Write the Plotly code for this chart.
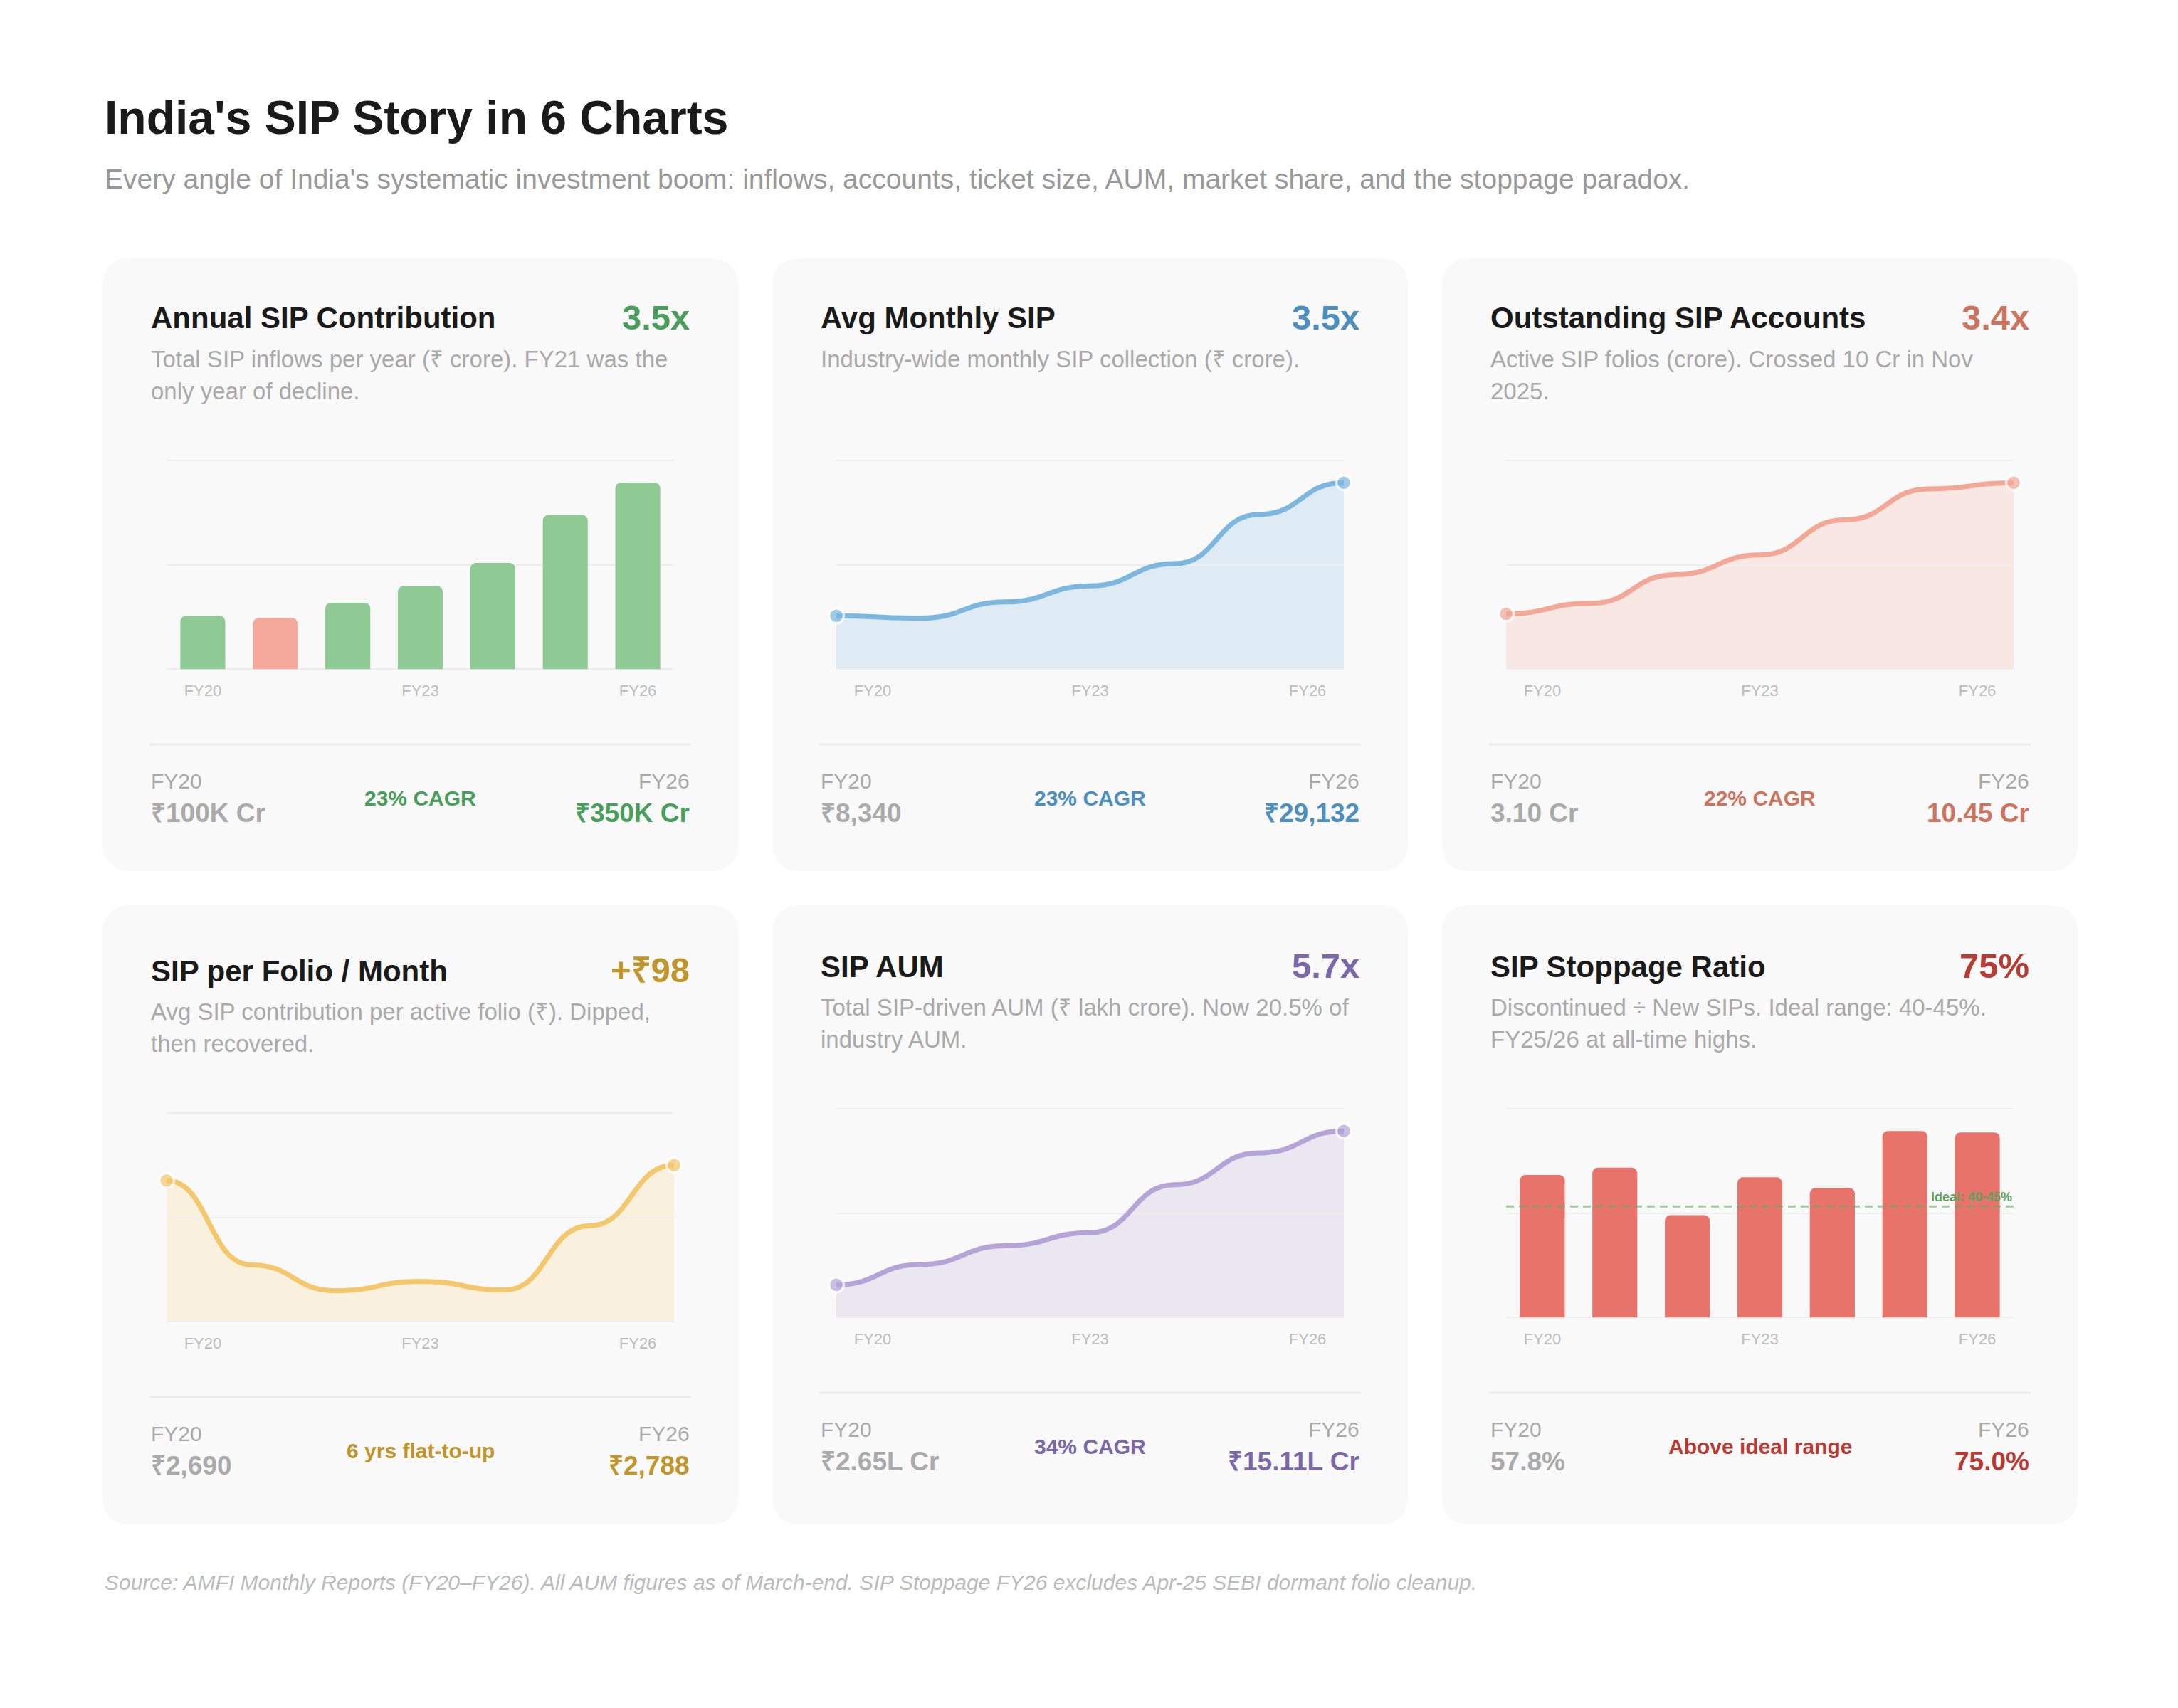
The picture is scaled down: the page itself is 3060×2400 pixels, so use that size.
import plotly.graph_objects as go

# ---- data ----
YEARS = ["FY20", "FY21", "FY22", "FY23", "FY24", "FY25", "FY26"]
TICK_YEARS = ["FY20", "FY23", "FY26"]

annual_sip = [100084, 96080, 124566, 155972, 199219, 289352, 350000]   # ₹ crore / year
monthly_sip = [8340, 7970, 10500, 13000, 16470, 24180, 29132]          # ₹ crore / month
sip_accounts = [3.10, 3.69, 5.29, 6.40, 8.36, 10.10, 10.45]            # crore folios
sip_per_folio = [2690, 2150, 1985, 2045, 1990, 2400, 2788]             # ₹ per folio
sip_aum = [2.65, 4.30, 5.81, 6.87, 10.75, 13.33, 15.11]                # ₹ lakh crore
stoppage = [57.8, 60.7, 41.5, 56.8, 52.5, 75.6, 75.0]                  # %
IDEAL = 45

cards = [
    dict(title="Annual SIP Contribution", head="3.5x", color="#4a9e5c",
         desc=["Total SIP inflows per year (₹ crore). FY21 was the", "only year of decline."],
         left="₹100K Cr", mid="23% CAGR", right="₹350K Cr"),
    dict(title="Avg Monthly SIP", head="3.5x", color="#4a8fc0",
         desc=["Industry-wide monthly SIP collection (₹ crore)."],
         left="₹8,340", mid="23% CAGR", right="₹29,132"),
    dict(title="Outstanding SIP Accounts", head="3.4x", color="#cd735e",
         desc=["Active SIP folios (crore). Crossed 10 Cr in Nov", "2025."],
         left="3.10 Cr", mid="22% CAGR", right="10.45 Cr"),
    dict(title="SIP per Folio / Month", head="+₹98", color="#c0952b",
         desc=["Avg SIP contribution per active folio (₹). Dipped,", "then recovered."],
         left="₹2,690", mid="6 yrs flat-to-up", right="₹2,788"),
    dict(title="SIP AUM", head="5.7x", color="#7a68a8",
         desc=["Total SIP-driven AUM (₹ lakh crore). Now 20.5% of", "industry AUM."],
         left="₹2.65L Cr", mid="34% CAGR", right="₹15.11L Cr"),
    dict(title="SIP Stoppage Ratio", head="75%", color="#b93a32",
         desc=["Discontinued ÷ New SIPs. Ideal range: 40-45%.", "FY25/26 at all-time highs."],
         left="57.8%", mid="Above ideal range", right="75.0%"),
]

FONT = "Liberation Sans, Arial, Helvetica, sans-serif"

# page geometry in screen pixels (body has an 8px margin)
OX, OY = 8, 8
W, H = 3044, 2384


def px(x):
    return (x - OX) / W


def py(y):
    return 1 - (y - OY) / H


CARD_X = [144, 1085, 2026]
CARD_W = 893
CARD_Y = [363, 1272]
CARD_H = [861, 870]
PAD = 66

fig = go.Figure()
annotations = []
shapes = []


def txt(x, y, s, size, color, bold=False, anchor="left", italic=False):
    annotations.append(dict(
        x=px(x), y=py(y), xref="paper", yref="paper", text=s, showarrow=False,
        xanchor=anchor, yanchor="middle",
        font=dict(family=FONT, size=size, color=color,
                  weight="bold" if bold else "normal",
                  style="italic" if italic else "normal")))


def rrect(x0, y0, x1, y1, r):
    return (f"M{px(x0 + r)},{py(y0)} L{px(x1 - r)},{py(y0)} "
            f"Q{px(x1)},{py(y0)} {px(x1)},{py(y0 + r)} L{px(x1)},{py(y1 - r)} "
            f"Q{px(x1)},{py(y1)} {px(x1 - r)},{py(y1)} L{px(x0 + r)},{py(y1)} "
            f"Q{px(x0)},{py(y1)} {px(x0)},{py(y1 - r)} L{px(x0)},{py(y0 + r)} "
            f"Q{px(x0)},{py(y0)} {px(x0 + r)},{py(y0)} Z")


# header / footer
txt(145, 165, "India's SIP Story in 6 Charts", 66, "#1a1a1a", bold=True)
txt(145, 252, "Every angle of India's systematic investment boom: inflows, accounts, "
              "ticket size, AUM, market share, and the stoppage paradox.", 39, "#999999")
txt(145, 2223, "Source: AMFI Monthly Reports (FY20–FY26). All AUM figures as of March-end. "
               "SIP Stoppage FY26 excludes Apr-25 SEBI dormant folio cleanup.",
    30, "#bbbbbb", italic=True)

n = len(YEARS)
xi = list(range(n))
tick_idx = [YEARS.index(t) for t in TICK_YEARS]

for k, c in enumerate(cards):
    row, col = divmod(k, 3)
    x0 = CARD_X[col]
    x1 = x0 + CARD_W
    y0 = CARD_Y[row]
    y1 = y0 + CARD_H[row]
    dy = 2 * row + (6 if k == 3 else 0)
    shapes.append(dict(type="path", path=rrect(x0, y0, x1, y1, 40), xref="paper", yref="paper",
                       fillcolor="#f9f9f9", line=dict(width=0), layer="below"))

    txt(x0 + PAD, y0 + 84 + dy, c["title"], 42, "#1a1a1a", bold=True)
    txt(x1 - PAD, y0 + 83 + dy, c["head"], 49, c["color"], bold=True, anchor="right")
    for j, line in enumerate(c["desc"]):
        txt(x0 + PAD, y0 + 141 + dy + 45 * j, line, 33, "#aaaaaa")

    shapes.append(dict(type="line", xref="paper", yref="paper",
                       x0=px(x0 + PAD), x1=px(x1 - PAD), y0=py(y0 + 683 + dy), y1=py(y0 + 683 + dy),
                       line=dict(color="#ececec", width=3)))
    txt(x0 + PAD, y0 + 734 + dy, YEARS[0], 30, "#aaaaaa")
    txt(x0 + PAD, y0 + 779 + dy, c["left"], 37, "#aaaaaa", bold=True)
    txt(x1 - PAD, y0 + 734 + dy, YEARS[-1], 30, "#aaaaaa", anchor="right")
    txt(x1 - PAD, y0 + 779 + dy, c["right"], 37, c["color"], bold=True, anchor="right")
    txt((x0 + x1) / 2, y0 + 758 + dy, c["mid"], 30, c["color"], bold=True, anchor="center")

    # chart axes
    s = "" if k == 0 else str(k + 1)
    xdom = [px(x0 + 90), px(x1 - 90)]
    ydom = [py(y0 + 579 + dy), py(y0 + 282 + dy)]
    fig.layout["xaxis" + s] = dict(domain=xdom, anchor="y" + s, showgrid=False, zeroline=False,
                                   showline=False, ticks="", ticklabelstandoff=13,
                                   tickfont=dict(family=FONT, size=22, color="#bdbdbd"),
                                   fixedrange=True)
    fig.layout["yaxis" + s] = dict(domain=ydom, anchor="x" + s, showticklabels=False,
                                   showgrid=True, gridcolor="#eeeeee", gridwidth=2,
                                   zeroline=False, showline=False, fixedrange=True)

cfg = {
    0: ("bar", annual_sip), 1: ("line", monthly_sip), 2: ("line", sip_accounts),
    3: ("line", sip_per_folio), 4: ("line", sip_aum), 5: ("bar", stoppage),
}
line_style = {
    1: ("#7db7e0", "#deebf5"), 2: ("#f3a797", "#f8e7e3"),
    3: ("#f5c76c", "#f9f0de"), 4: ("#b5a4d7", "#ebe7f1"),
}

for k, (kind, vals) in cfg.items():
    s = "" if k == 0 else str(k + 1)
    lo = 0
    if k == 3:
        lo = 0.9 * min(vals)
    hi = 1.12 * max(vals)
    pad = 0.006 * (hi - lo)   # keep the edge gridlines inside the plot area
    fig.layout["yaxis" + s].update(range=[lo - pad, hi + pad], tickvals=[lo, (lo + hi) / 2, hi])
    if kind == "bar":
        if k == 0:
            colors = ["#f4a99b" if i > 0 and v < vals[i - 1] else "#8fc994" for i, v in enumerate(vals)]
        else:
            colors = ["#e8736a"] * n
        fig.add_trace(go.Bar(x=xi, y=vals, marker=dict(color=colors, cornerradius=8, line=dict(width=0)),
                             xaxis="x" + s, yaxis="y" + s, hoverinfo="skip"))
        fig.layout["xaxis" + s].update(range=[-0.5, n - 0.5], tickvals=tick_idx, ticktext=TICK_YEARS)
    else:
        lc, fc = line_style[k]
        # smooth "bump" curve: flat tangent at every data point
        curve = f"M{xi[0]},{vals[0]}"
        for i in range(n - 1):
            xm = (xi[i] + xi[i + 1]) / 2
            curve += f" C{xm},{vals[i]} {xm},{vals[i + 1]} {xi[i + 1]},{vals[i + 1]}"
        area = curve + f" L{xi[-1]},{lo} L{xi[0]},{lo} Z"
        shapes.append(dict(type="path", path=area, xref="x" + s, yref="y" + s,
                           fillcolor=fc, line=dict(width=0), layer="below"))
        shapes.append(dict(type="path", path=curve, xref="x" + s, yref="y" + s,
                           line=dict(color=lc, width=7), layer="between"))
        sizes = [21 if i in (0, n - 1) else 0 for i in xi]
        widths = [3.5 if i in (0, n - 1) else 0 for i in xi]
        fig.add_trace(go.Scatter(x=xi, y=vals, mode="markers",
                                 marker=dict(size=sizes, color=lc, line=dict(color="white", width=widths)),
                                 cliponaxis=False, xaxis="x" + s, yaxis="y" + s, hoverinfo="skip"))
        # labels sit at category centres while the line spans edge to edge
        fig.layout["xaxis" + s].update(range=[0, n - 1],
                                       tickvals=[(i + 0.5) * (n - 1) / n for i in tick_idx],
                                       ticktext=TICK_YEARS)

# ideal stoppage level
shapes.append(dict(type="line", xref="x6 domain", yref="y6", x0=0, x1=1, y0=IDEAL, y1=IDEAL,
                   line=dict(color="rgba(100,170,100,0.6)", width=3, dash="11px,7px"), layer="above"))
annotations.append(dict(x=1, y=IDEAL, xref="x6 domain", yref="y6", text="Ideal: 40-45%",
                        showarrow=False, xanchor="right", yanchor="bottom", yshift=1,
                        font=dict(family=FONT, size=18, color="#5f9f62", weight="bold")))

fig.update_layout(
    width=W, height=H, margin=dict(l=0, r=0, t=0, b=0),
    paper_bgcolor="white", plot_bgcolor="rgba(0,0,0,0)",
    showlegend=False, bargap=0.38,
    annotations=annotations, shapes=shapes,
)

fig.write_html("out.html")
